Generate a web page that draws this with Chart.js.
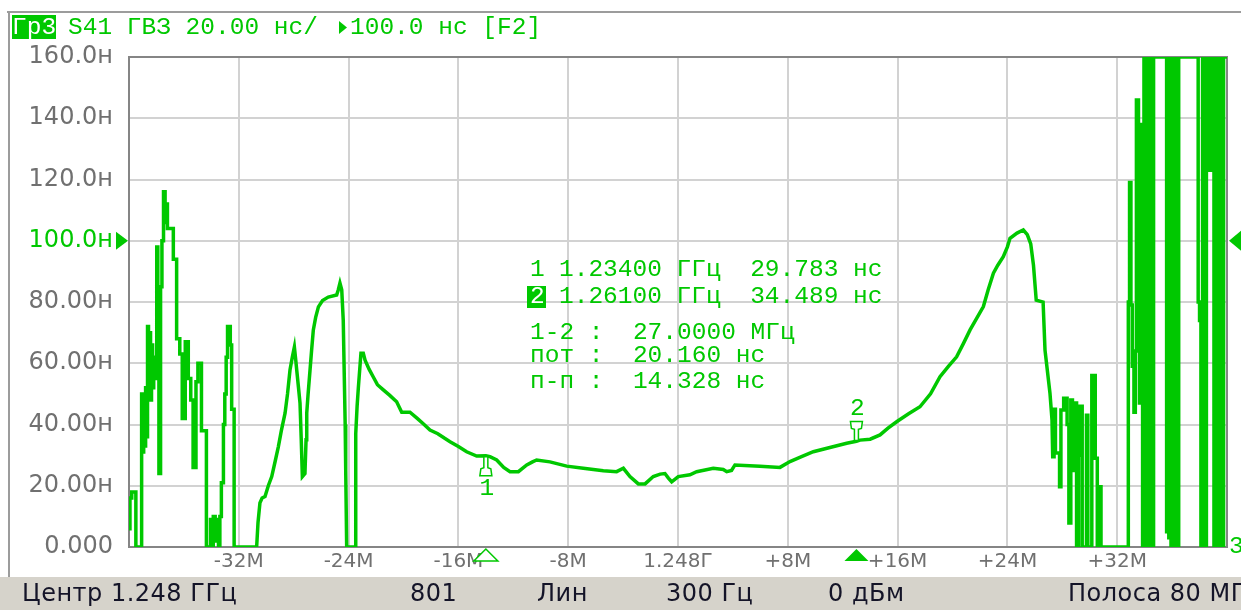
<!DOCTYPE html>
<html>
<head>
<meta charset="utf-8">
<title>S41 ГВЗ</title>
<script src="https://cdn.jsdelivr.net/npm/chart.js"></script>
<style>
  body { margin: 0; background: #fff; }
  canvas { display: block; }
</style>
</head>
<body>
<canvas id="myChart" width="1241" height="610"></canvas>
<script>
// trace: offset from centre 1.248 GHz (MHz) and group delay (ns)
let freqs = [
  // noisy low edge
  -40.0, -39.93, -39.93, -39.8, -39.8, -39.5, -39.5, -39.08, -39.08, -39.0,
  -39.0, -38.93, -38.93, -38.86, -38.86, -38.79, -38.79, -38.72, -38.72, -38.65,
  -38.65, -38.58, -38.58, -38.5, -38.5, -38.43, -38.43, -38.36, -38.36, -38.28,
  -38.28, -38.2, -38.2, -38.1, -38.1, -37.98, -37.98, -37.9, -37.9, -37.82,
  -37.82, -37.7, -37.7, -37.6, -37.6, -37.52, -37.52, -37.45, -37.37, -37.37,
  -37.28, -37.28, -37.2, -37.2, -36.77, -36.77, -36.53, -36.53, -36.3, -36.3,
  -36.12, -36.12, -35.9, -35.9, -35.68, -35.68, -35.5, -35.5, -35.33, -35.33,
  -35.12, -35.12, -34.98, -34.98, -34.72, -34.72, -34.36, -34.36, -34.06, -34.06,
  -33.96, -33.96, -33.86, -33.86, -33.72, -33.72, -33.6, -33.6, -33.48, -33.48,
  -33.38, -33.38, -33.27, -33.27, -33.12, -33.12, -33.02, -33.02, -32.92, -32.92,
  -32.82, -32.82, -32.62, -32.62, -32.52, -32.52, -32.34, -32.34,
  // passband
  -30.7, -30.6, -30.46, -30.3, -30.09, -29.85, -29.6, -29.35, -29.12, -28.9,
  -28.63, -28.45, -28.27, -28.1, -27.95, -27.85, -27.78, -27.65, -27.54, -27.45,
  -27.37, -27.18, -27.1, -27.05, -26.95, -26.81, -26.7, -26.57, -26.4, -26.2,
  -25.9, -25.48, -24.87, -24.75, -24.63, -24.5, -24.39, -24.25, -24.21, -24.14,
  -23.53, -23.48, -23.38, -23.29, -23.1, -22.93, -22.8, -22.5, -22.2, -21.9,
  -21.47, -21.0, -20.5, -20.13, -19.53, -19.0, -18.5, -18.07, -17.5, -17.0,
  -16.61, -16.0, -15.4, -14.67, -14.0, -13.7, -13.21, -12.7, -12.24, -11.63,
  -11.02, -10.6, -10.3, -9.33, -8.11, -6.9, -5.44, -4.47, -3.98, -3.5,
  -2.89, -2.4, -1.8, -1.3, -0.95, -0.7, -0.46, 0.02, 0.87, 1.36,
  2.57, 3.3, 3.55, 3.9, 4.15, 5.97, 7.43, 8.16, 9.0, 9.86,
  11.07, 12.29, 13.0, 13.26, 14.0, 14.72, 15.3, 15.93, 16.8, 17.63,
  18.4, 19.09, 19.7, 20.3, 20.8, 21.28, 21.8, 22.25, 22.6, 22.98,
  23.3, 23.7, 24.0, 24.19, 24.7, 25.16, 25.45, 25.7, 25.9, 26.1,
  26.6, 26.74, 27.1, 27.25,
  // noisy high edge
  27.3, 27.3, 27.4, 27.4, 27.5, 27.5, 27.8, 27.8, 27.9, 27.9,
  28.1, 28.1, 28.35, 28.35, 28.48, 28.48, 28.62, 28.62, 28.74, 28.74,
  28.86, 28.86, 29.04, 29.04, 29.18, 29.18, 29.28, 29.28, 29.45, 29.45,
  29.76, 29.76, 29.86, 29.86, 30.15, 30.15, 30.4, 30.4, 30.55, 30.55,
  30.7, 30.7, 30.82, 30.82, 32.81, 32.81, 32.9, 32.9, 33.0, 33.0,
  33.1, 33.1, 33.22, 33.22, 33.32, 33.32, 33.4, 33.4, 33.55, 33.55,
  33.62, 33.62, 33.7, 33.7, 33.85, 33.85, 33.95, 33.95, 34.05, 34.05,
  34.15, 34.15, 34.3, 34.3, 34.42, 34.42, 34.55, 34.55, 34.65, 34.65,
  35.6, 35.6, 35.68, 35.68, 35.76, 35.76, 35.84, 35.84, 35.92, 35.92,
  36.0, 36.0, 36.08, 36.08, 36.16, 36.16, 36.24, 36.24, 36.32, 36.32,
  36.4, 36.4, 36.48, 36.48, 37.9, 37.9, 38.0, 38.0, 38.1, 38.1,
  38.22, 38.22, 38.4, 38.4, 38.5, 38.5, 38.72, 38.72, 38.85, 38.85,
  39.05, 39.05, 39.15, 39.15, 39.25, 39.25, 39.35, 39.35, 39.45, 39.45,
  39.55, 39.55, 39.65, 39.65, 39.75, 39.75, 40.0
];
let delays = [
  6, 6, 16, 16, 18, 18, 0, 0, 50, 50,
  31, 31, 50, 50, 33, 33, 52, 52, 36, 36,
  72, 72, 50, 50, 70, 70, 48, 48, 66, 66,
  52, 52, 62, 62, 55, 55, 98, 98, 80, 80,
  24, 24, 85, 85, 100, 100, 113, 116, 116, 106,
  106, 112, 112, 104, 104, 94, 94, 68, 68, 63,
  63, 42, 42, 67, 67, 55, 55, 48, 48, 26,
  26, 54, 54, 60, 60, 38, 38, 0, 0, 9,
  9, 0, 0, 10, 10, 2, 2, 9, 9, 0,
  0, 10, 10, 21, 21, 40, 40, 50, 50, 62,
  62, 72, 72, 66, 66, 45, 45, 0,

  0, 8, 14.4, 16, 16.5, 20, 23, 28, 32.7, 38,
  43.7, 50, 57.8, 62, 65.3, 61, 57.8, 52, 47, 35,
  23, 24, 35, 43.7, 50, 57.8, 64, 70.9, 75, 78.4,
  80.5, 81.6, 82.3, 84, 86.2, 84, 74, 40, 25, 0,
  0, 37, 46, 52, 63.3, 63.3, 61, 58, 55.5, 53,
  51.3, 49.5, 47.4, 44, 44, 42, 40, 38.2, 37, 35.5,
  34.4, 32.8, 31.1, 29.7, 29.8, 29.5, 28.4, 26, 24.6, 24.6,
  26.8, 27.8, 28.4, 27.8, 26.4, 25.7, 24.9, 24.6, 25.7, 23,
  20.6, 20.6, 23, 23.8, 24, 22.5, 21.3, 23, 23.6, 24.6,
  25.7, 25.3, 24.6, 25, 26.8, 26.4, 26, 27.9, 29.5, 31.1,
  32.5, 33.9, 34.5, 34.9, 35.2, 36.6, 38.8, 40.9, 43.5, 45.8,
  50, 55.6, 59, 62.1, 66.5, 70.9, 75, 78.5, 84, 89.4,
  92, 94.8, 98, 100.8, 102.5, 103.5, 102, 99, 92, 80.6,
  80, 64.3, 50.3, 41.5,

  41.5, 29.5, 29.5, 45, 45, 30.7, 30.7, 19.7, 19.7, 44.7,
  44.7, 48.6, 48.6, 40, 40, 7.8, 7.8, 48, 48, 25,
  25, 47, 47, 0, 0, 30, 30, 46, 46, 0,
  0, 43, 43, 0, 0, 56, 56, 29, 29, 0,
  0, 19.7, 19.7, 0, 0, 80, 80, 119, 119, 79,
  79, 59, 59, 44, 44, 64, 64, 146, 146, 120,
  120, 47, 47, 138, 138, 0, 0, 160, 160, 0,
  0, 160, 160, 0, 0, 160, 160, 0, 0, 160,
  160, 5, 5, 160, 160, 3, 3, 160, 160, 0,
  0, 160, 160, 2, 2, 160, 160, 0, 0, 160,
  160, 0, 0, 160, 160, 80, 80, 74, 74, 0,
  0, 160, 160, 0, 0, 160, 160, 123, 123, 160,
  160, 0, 0, 160, 160, 0, 0, 160, 160, 0,
  0, 160, 160, 0, 0, 160, 160
];

let xTickValues = [-32, -24, -16, -8, 0, 8, 16, 24, 32];
let xTickLabels = ['-32М', '-24М', '-16М', '-8М', '1.248Г', '+8М', '+16М', '+24М', '+32М'];
let yTickValues = [0, 20, 40, 60, 80, 100, 120, 140, 160];
let yTickLabels = ['0.000', '20.00н', '40.00н', '60.00н', '80.00н', '100.0н', '120.0н', '140.0н', '160.0н'];

// markers
let markerFreqs = [-14, 13];
let markerDelays = [29.783, 34.489];
let refLevel = 100;
let statLines = ['1-2 :  27.0000 МГц', 'пот :  20.160 нс', 'п-п :  14.328 нс'];

let statusText = ['Центр 1.248 ГГц', '801', 'Лин', '300 Гц', '0 дБм', 'Полоса 80 МГц'];
let statusX = [22, 410, 537, 666, 828, 1068];

const GREEN = '#00c800';
const GRAY = '#707070';
const MONO = '24.5px "Liberation Mono", "DejaVu Sans Mono", monospace';

function tri(ctx, x1, y1, x2, y2, x3, y3) {
    ctx.beginPath();
    ctx.moveTo(x1, y1);
    ctx.lineTo(x2, y2);
    ctx.lineTo(x3, y3);
    ctx.closePath();
}

// pin marker, dir = 1 below the trace, -1 above it
function pin(ctx, x, y, dir) {
    ctx.beginPath();
    ctx.moveTo(x - 2, y + dir * 1);
    ctx.lineTo(x + 2, y + dir * 1);
    ctx.lineTo(x + 2, y + dir * 12);
    ctx.lineTo(x + 5, y + dir * 13);
    ctx.lineTo(x + 6, y + dir * 20);
    ctx.lineTo(x - 6, y + dir * 20);
    ctx.lineTo(x - 5, y + dir * 13);
    ctx.lineTo(x - 2, y + dir * 12);
    ctx.closePath();
    ctx.fillStyle = '#fff';
    ctx.fill();
    ctx.lineWidth = 1.5;
    ctx.strokeStyle = GREEN;
    ctx.stroke();
}

const decor = {
    id: 'decor',
    beforeDraw(chart) {
        let ctx = chart.ctx;
        ctx.save();
        ctx.fillStyle = '#fff';
        ctx.fillRect(0, 0, chart.width, chart.height);
        // window frame
        ctx.fillStyle = '#9c9c9c';
        ctx.fillRect(7, 11, chart.width - 7, 2);
        ctx.fillRect(8, 11, 2, 566);
        // status bar
        ctx.fillStyle = '#d6d3cb';
        ctx.fillRect(0, 577, chart.width, 33);
        ctx.font = '24px "DejaVu Sans", sans-serif';
        ctx.letterSpacing = '0.5px';
        ctx.fillStyle = '#141428';
        ctx.textBaseline = 'middle';
        statusText.forEach((t, i) => ctx.fillText(t, statusX[i], 595));
        ctx.letterSpacing = '0px';
        // title
        ctx.fillStyle = GREEN;
        ctx.fillRect(12, 15, 44, 24);
        ctx.font = MONO;
        ctx.textBaseline = 'middle';
        ctx.fillStyle = '#fff';
        ctx.fillText('Гр3', 12, 28);
        ctx.fillStyle = GREEN;
        ctx.fillText('S41 ГВЗ 20.00 нс/', 68, 28);
        tri(ctx, 339, 21, 347, 27.5, 339, 34);
        ctx.fill();
        ctx.fillText('100.0 нс [F2]', 350, 28);
        ctx.restore();
    },
    beforeDatasetsDraw(chart) {
        let ctx = chart.ctx, a = chart.chartArea;
        ctx.save();
        ctx.strokeStyle = '#858585';
        ctx.lineWidth = 2;
        ctx.strokeRect(a.left, a.top, a.right - a.left, a.bottom - a.top);
        ctx.restore();
    },
    afterDraw(chart) {
        let ctx = chart.ctx, a = chart.chartArea;
        let xs = chart.scales.x, ys = chart.scales.y;
        ctx.save();
        // reference level arrows
        let ry = ys.getPixelForValue(refLevel);
        ctx.fillStyle = GREEN;
        tri(ctx, a.left - 13, ry - 9, a.left - 1, ry, a.left - 13, ry + 9);
        ctx.fill();
        tri(ctx, chart.width, ry - 10, a.right + 2, ry, chart.width, ry + 10);
        ctx.fill();

        // markers on the trace and on the axis
        ctx.font = MONO;
        ctx.textAlign = 'center';
        ctx.textBaseline = 'middle';
        markerFreqs.forEach((f, i) => {
            let px = xs.getPixelForValue(f);
            let py = ys.getPixelForValue(markerDelays[i]);
            let dir = i === 0 ? 1 : -1;
            pin(ctx, px, py, dir);
            ctx.fillStyle = GREEN;
            ctx.fillText(String(i + 1), px + 1, py + dir * 33);
            tri(ctx, px, a.bottom + 2, px + 12, a.bottom + 14, px - 12, a.bottom + 14);
            if (i === 0) {
                ctx.fillStyle = '#fff';
                ctx.fill();
                ctx.lineWidth = 1.5;
                ctx.strokeStyle = GREEN;
                ctx.stroke();
            } else {
                ctx.fillStyle = GREEN;
                ctx.fill();
            }
        });

        // marker readout
        ctx.textAlign = 'left';
        let lineY = [270, 297, 333, 356, 382];
        markerFreqs.forEach((f, i) => {
            let ghz = (1.248 + f / 1000).toFixed(5);
            let txt = ghz + ' ГГц  ' + markerDelays[i].toFixed(3) + ' нс';
            if (i === 1) {
                ctx.fillStyle = GREEN;
                ctx.fillRect(527, 286, 19, 22);
                ctx.fillStyle = '#fff';
            } else {
                ctx.fillStyle = GREEN;
            }
            ctx.fillText(String(i + 1), 530, lineY[i]);
            ctx.fillStyle = GREEN;
            ctx.fillText(txt, 559, lineY[i]);
        });
        statLines.forEach((t, i) => ctx.fillText(t, 530, lineY[i + 2]));

        // trace number
        ctx.fillText('3', 1229, 547);
        ctx.restore();
    }
};

let points = freqs.map((f, i) => ({ x: f, y: delays[i] }));

let ctx = document.getElementById('myChart').getContext('2d');
let chart = new Chart(ctx, {
    type: 'line',
    data: {
        datasets: [{
            data: points,
            borderColor: GREEN,
            borderWidth: 3.5,
            pointRadius: 0,
            tension: 0,
            fill: false
        }]
    },
    options: {
        responsive: false,
        animation: false,
        layout: { padding: { top: 57, right: 14, bottom: 32, left: 0 } },
        plugins: { legend: { display: false }, tooltip: { enabled: false } },
        scales: {
            x: {
                type: 'linear',
                min: -40,
                max: 40,
                afterFit(s) { s.height = 31; },
                border: { display: false },
                grid: { color: '#d2d2d2', lineWidth: 2, drawTicks: false },
                ticks: {
                    stepSize: 8,
                    autoSkip: false,
                    maxRotation: 0,
                    padding: 3,
                    color: GRAY,
                    font: { family: 'DejaVu Sans', size: 20 },
                    callback: (v) => xTickLabels[xTickValues.indexOf(v)] || ''
                }
            },
            y: {
                min: 0,
                max: 160,
                afterFit(s) { s.width = 129; },
                border: { display: false },
                grid: { color: '#d2d2d2', lineWidth: 2, drawTicks: false },
                ticks: {
                    stepSize: 20,
                    padding: 16,
                    color: (c) => c.tick && c.tick.value === refLevel ? GREEN : GRAY,
                    font: { family: 'DejaVu Sans', size: 24 },
                    callback: (v) => yTickLabels[yTickValues.indexOf(v)]
                }
            }
        }
    },
    plugins: [decor]
});
</script>
</body>
</html>
